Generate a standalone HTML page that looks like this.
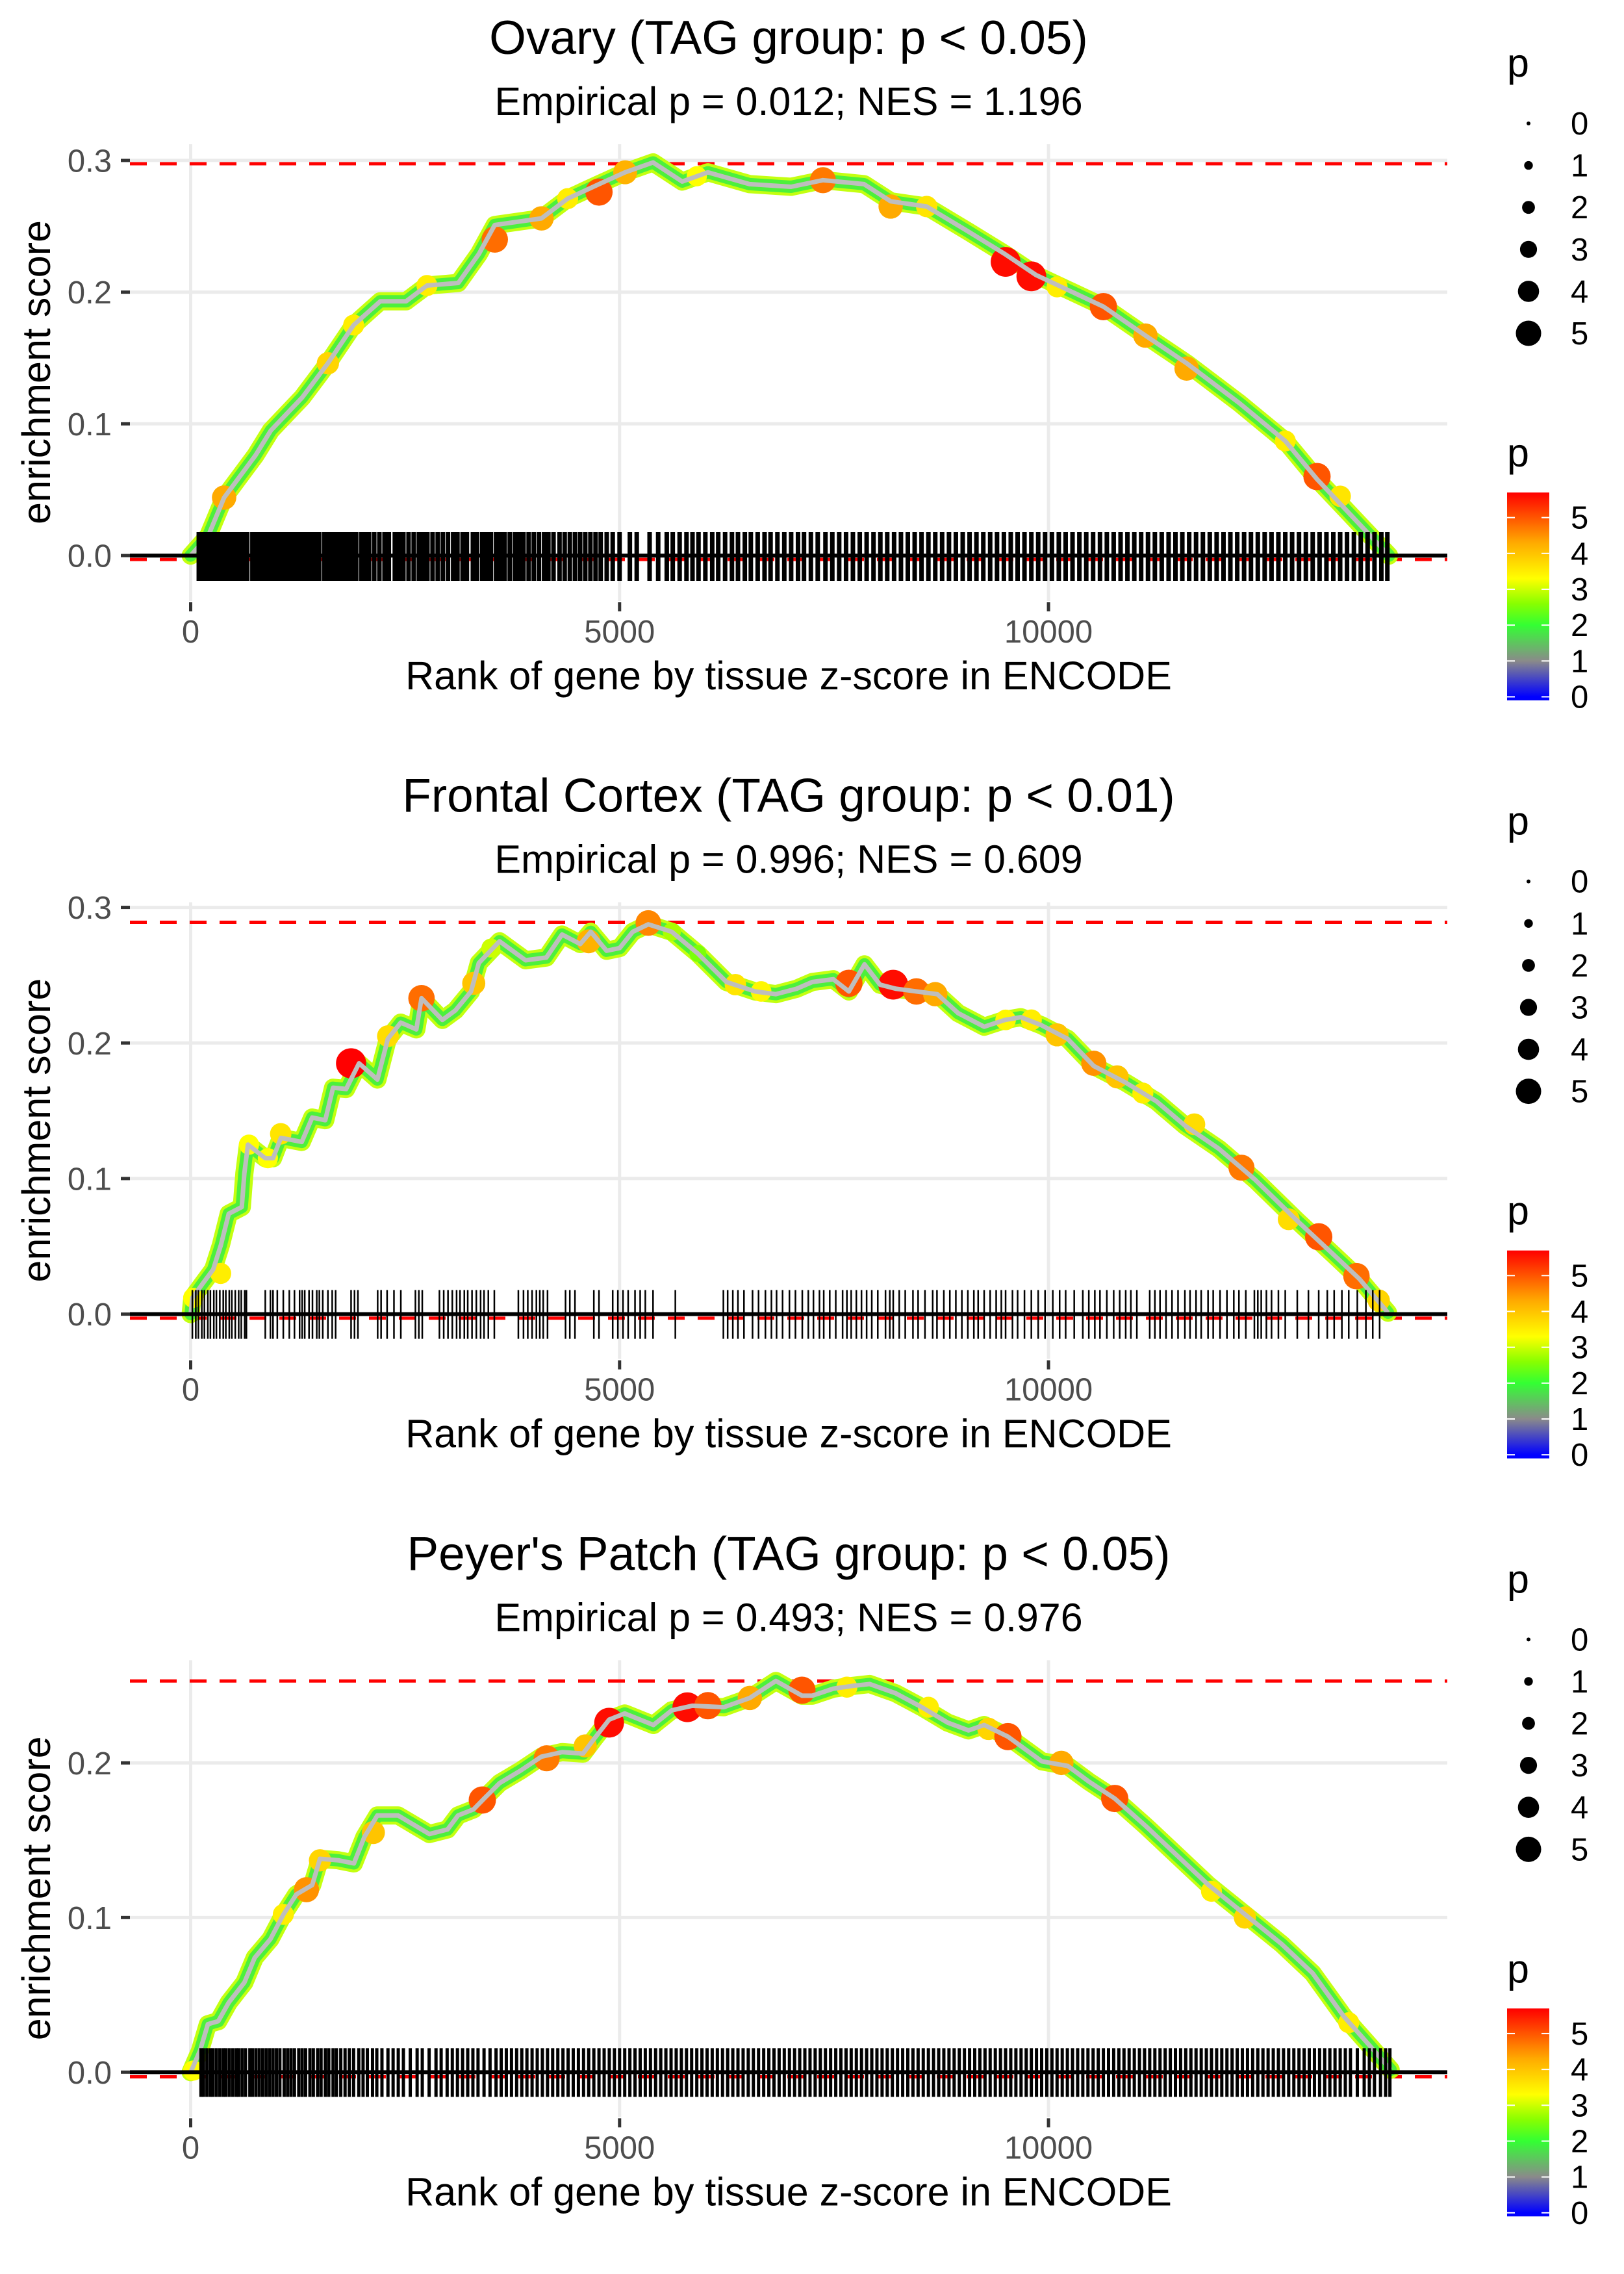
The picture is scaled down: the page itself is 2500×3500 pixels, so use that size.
<!DOCTYPE html>
<html><head><meta charset="utf-8"><title>GSEA enrichment plots</title>
<style>
html,body{margin:0;padding:0;background:#fff;}
svg{display:block;font-family:"Liberation Sans",Arial,sans-serif;}
</style></head>
<body>
<svg id="chart" xmlns="http://www.w3.org/2000/svg" width="2500" height="3500" viewBox="0 0 2500 3500"></svg>
<script>
// ---------- data ----------
const titles = ["Ovary (TAG group: p < 0.05)", "Frontal Cortex (TAG group: p < 0.01)", "Peyer's Patch (TAG group: p < 0.05)"];
const subtitles = ["Empirical p = 0.012; NES = 1.196", "Empirical p = 0.996; NES = 0.609", "Empirical p = 0.493; NES = 0.976"];
const xTicks = [0, 5000, 10000];
const xTickLabels = ["0", "5000", "10000"];
const yTicks1 = [0, 0.1, 0.2, 0.3];
const yTicks2 = [0, 0.1, 0.2, 0.3];
const yTicks3 = [0, 0.1, 0.2];
const yDomain1 = [-0.0345, 0.3123];
const yDomain2 = [-0.0331, 0.3038];
const yDomain3 = [-0.0290, 0.2664];
const maxES = [0.2975, 0.289, 0.253];
const minES = [-0.003, -0.003, -0.003];
const legendSizes = [0, 1, 2, 3, 4, 5];
const colorbarTicks = [0, 1, 2, 3, 4, 5];

// Ovary curve
const curveRank1 = [0,205,390,755,935,1300,1600,1900,2210,2510,2755,3120,3360,3545,4090,4395,4760,5065,5390,5730,6030,6515,7000,7370,7850,8160,8580,9065,9490,9855,10280,10640,11130,11610,12220,12760,13130,13550,13970];
const curveES1 = [0,0.015,0.044,0.076,0.095,0.12,0.146,0.175,0.193,0.193,0.205,0.207,0.229,0.251,0.256,0.271,0.282,0.291,0.2985,0.284,0.291,0.282,0.280,0.285,0.282,0.269,0.265,0.246,0.229,0.213,0.200,0.189,0.167,0.146,0.116,0.087,0.058,0.029,0];
const pointRank1 = [390,1600,1900,2755,3545,4090,4395,4760,5065,5900,7370,8160,8580,9500,9800,10100,10640,11130,11610,12760,13130,13400];
const pointES1 = [0.044,0.146,0.175,0.205,0.240,0.256,0.271,0.276,0.291,0.288,0.285,0.265,0.265,0.223,0.212,0.204,0.189,0.167,0.142,0.087,0.060,0.045];
const pointP1 = [4.3,3.8,3.5,3.5,4.8,4.3,3.5,5.0,4.2,3.3,4.7,4.3,3.6,5.6,5.6,3.5,5.0,4.3,4.3,3.5,5.0,3.6];
const rug1 = [95,130,160,210,250,290,330,370,420,455,500,540,590,630,660,720,760,800,850,880,930,975,1010,1060,1100,1150,1190,1240,1290,1330,1370,1420,1470,1500,1560,1600,1650,1700,1740,1790,1840,1880,1930,1990,2030,2080,2140,2200,2260,2310,2380,2430,2480,2540,2600,2660,2710,2760,2820,2880,2940,3000,3060,3110,3170,3220,3290,3340,3400,3450,3500,3560,3610,3660,3720,3780,3830,3880,3940,4000,4060,4120,4170,4230,4300,4360,4420,4480,4540,4600,4660,4720,4780,4850,4920,5000,5120,5200,5350,5450,5550,5620,5700,5780,5850,5920,6000,6080,6150,6230,6310,6380,6460,6530,6610,6690,6760,6840,6920,7000,7080,7150,7230,7310,7400,7480,7560,7640,7720,7800,7880,7960,8040,8120,8200,8280,8360,8440,8520,8600,8680,8760,8840,8920,9000,9080,9160,9240,9320,9400,9480,9560,9640,9720,9800,9880,9960,10040,10120,10200,10280,10360,10440,10520,10600,10680,10760,10840,10920,11000,11080,11160,11240,11320,11400,11480,11560,11640,11720,11800,11880,11960,12040,12120,12200,12280,12360,12440,12520,12600,12680,12760,12840,12920,13000,13080,13160,13240,13320,13400,13480,13560,13640,13720,13800,13880,13950];

// Frontal cortex curve
const curveRank2 = [0,20,140,263,353,444,596,626,668,870,960,1052,1295,1417,1569,1660,1812,1963,2177,2298,2449,2631,2691,2934,3086,3268,3359,3601,3904,4147,4329,4542,4664,4849,5001,5153,5335,5609,5912,6245,6580,6822,7065,7248,7491,7673,7855,8037,8219,8462,8704,8947,9250,9493,9678,9921,10224,10528,10893,11257,11591,11986,12411,12897,13321,13624,13958];
const curveES2 = [0,0.012,0.0225,0.033,0.051,0.074,0.079,0.104,0.125,0.115,0.115,0.130,0.127,0.145,0.143,0.167,0.166,0.185,0.173,0.203,0.215,0.210,0.233,0.217,0.224,0.238,0.259,0.275,0.261,0.263,0.280,0.273,0.282,0.268,0.270,0.282,0.2875,0.282,0.266,0.245,0.238,0.236,0.240,0.245,0.247,0.238,0.258,0.243,0.240,0.238,0.236,0.222,0.212,0.217,0.219,0.213,0.203,0.183,0.171,0.157,0.139,0.122,0.099,0.069,0.044,0.026,0.001];
const pointRank2 = [30,350,680,900,1050,1870,2300,2691,3300,3500,4640,5335,5609,5912,6350,6650,7673,8190,8460,8680,9500,9800,10100,10528,10800,11100,11700,12250,12800,13150,13590,13850];
const pointES2 = [0.012,0.03,0.125,0.115,0.133,0.185,0.205,0.233,0.244,0.27,0.275,0.2885,0.282,0.266,0.243,0.238,0.244,0.243,0.238,0.236,0.217,0.217,0.206,0.185,0.175,0.163,0.140,0.108,0.07,0.057,0.028,0.01];
const pointP2 = [3.3,3.5,3.3,3.3,3.6,5.7,3.7,4.8,4.0,3.0,4.2,4.6,2.8,2.5,3.6,3.4,5.0,5.6,4.8,4.3,3.4,3.5,4.0,4.5,4.0,3.5,3.7,4.7,3.7,5.0,4.8,3.8];
const rug2 = [20,60,90,130,160,200,230,270,300,340,380,410,450,480,520,560,590,630,650,870,930,960,1010,1080,1150,1210,1270,1300,1330,1380,1420,1470,1500,1540,1600,1650,1690,1870,1910,1950,2180,2220,2290,2370,2450,2620,2660,2700,2900,2950,3000,3050,3100,3140,3190,3230,3280,3330,3380,3420,3470,3540,3820,3880,3930,3980,4030,4070,4110,4160,4370,4420,4480,4700,4760,4920,4980,5040,5100,5180,5240,5300,5390,5650,6210,6260,6320,6380,6450,6550,6620,6700,6770,6830,6900,6980,7050,7130,7200,7260,7330,7380,7450,7520,7600,7650,7700,7760,7820,7880,7940,8010,8100,8150,8190,8260,8330,8420,8480,8560,8650,8700,8780,8850,8920,8990,9060,9130,9180,9250,9320,9390,9450,9500,9580,9640,9720,9800,9880,9960,10050,10130,10200,10300,10400,10470,10540,10600,10680,10760,10830,10900,10960,11030,11180,11240,11300,11370,11440,11510,11590,11650,11720,11780,11860,11920,12000,12080,12160,12220,12300,12400,12440,12480,12540,12600,12680,12760,12900,13030,13150,13250,13330,13420,13500,13600,13700,13780,13860];

// Peyer's patch curve
const curveRank3 = [0,110,201,322,444,626,747,930,1082,1233,1417,1508,1720,1903,2024,2176,2418,2631,2783,2995,3117,3299,3421,3602,3845,4088,4331,4574,4696,4878,5060,5395,5608,5850,6215,6518,6822,7126,7248,7491,7703,7915,8219,8523,8826,9068,9250,9527,9922,10226,10469,10772,11137,11501,11865,12290,12715,13079,13443,13746,13989];
const curveES3 = [0,0.014,0.031,0.033,0.045,0.058,0.074,0.086,0.102,0.115,0.121,0.138,0.137,0.135,0.152,0.166,0.166,0.159,0.154,0.157,0.166,0.170,0.177,0.187,0.195,0.204,0.207,0.206,0.215,0.228,0.232,0.2245,0.234,0.237,0.236,0.242,0.253,0.2435,0.2435,0.248,0.2497,0.251,0.245,0.236,0.226,0.221,0.2245,0.217,0.201,0.198,0.188,0.177,0.159,0.140,0.121,0.102,0.083,0.064,0.036,0.017,0.0015];
const pointRank3 = [30,1080,1350,1508,2130,3400,4150,4600,4878,5790,6030,6518,7126,7650,8600,9300,9527,10150,10772,11900,12290,13500];
const pointES3 = [0.001,0.102,0.118,0.137,0.155,0.176,0.203,0.211,0.226,0.236,0.237,0.242,0.247,0.249,0.236,0.222,0.217,0.200,0.177,0.117,0.100,0.032];
const pointP3 = [3.3,3.5,4.5,3.8,4.0,5.0,4.7,4.0,5.6,5.6,5.0,4.3,5.0,3.5,3.5,3.8,5.0,4.3,5.0,3.5,3.8,3.5];
const rug3 = [120,150,190,230,260,300,340,380,410,450,490,530,560,600,640,690,720,760,800,840,880,920,960,1000,1040,1090,1130,1170,1210,1260,1300,1340,1390,1430,1480,1520,1570,1610,1660,1700,1750,1800,1850,1900,1960,2010,2060,2120,2170,2230,2300,2360,2420,2480,2560,2640,2700,2780,2860,2920,2990,3050,3110,3170,3230,3290,3350,3420,3490,3560,3620,3680,3740,3800,3860,3920,3980,4040,4100,4160,4220,4280,4340,4400,4460,4520,4580,4640,4700,4760,4820,4880,4940,5000,5060,5120,5180,5240,5300,5360,5420,5480,5540,5600,5660,5720,5780,5840,5900,5960,6020,6080,6140,6200,6260,6320,6380,6440,6500,6560,6620,6680,6740,6800,6860,6920,6980,7040,7100,7160,7220,7280,7340,7400,7460,7520,7580,7640,7700,7760,7820,7880,7940,8000,8060,8120,8180,8240,8300,8360,8420,8480,8540,8600,8660,8720,8780,8840,8900,8960,9020,9080,9140,9200,9260,9320,9380,9440,9500,9560,9620,9680,9740,9800,9860,9920,9980,10040,10100,10160,10220,10280,10340,10400,10460,10520,10580,10640,10700,10760,10820,10880,10940,11000,11060,11120,11180,11240,11300,11360,11420,11480,11540,11600,11660,11720,11780,11840,11900,11960,12020,12080,12140,12200,12260,12320,12380,12440,12500,12560,12620,12680,12740,12800,12860,12920,12980,13040,13100,13160,13220,13280,13340,13400,13460,13520,13600,13680,13740,13800,13870,13930,13980];
const rugWidths = [7, 2.5, 5];

// ---------- layout ----------
const SVGNS = "http://www.w3.org/2000/svg";
const svg = document.getElementById("chart");
const PANEL_H = 3500 / 3;
const PX0 = 200, PX1 = 2228, PY0 = 222, PY1 = 925;
const X_MIN = -708, X_MAX = 14649;
const xs = r => PX0 + (r - X_MIN) / (X_MAX - X_MIN) * (PX1 - PX0);
const CB_TOP = 758, CB_BOT = 1078, CB_PMAX = 5.7, CB_PMIN = -0.1;
const colorStops = [[-0.1,[0,0,255]],[0,[0,0,255]],[1,[138,138,138]],[2,[51,255,51]],[2.6,[136,255,0]],[3.3,[255,255,0]],[4.3,[255,170,0]],[5.7,[255,0,0]]];
function pColor(p){
  for (let i=0;i<colorStops.length-1;i++){
    const a=colorStops[i], b=colorStops[i+1];
    if (p<=b[0]){ const t=(p-a[0])/(b[0]-a[0]||1); const c=a[1].map((v,k)=>Math.round(v+(b[1][k]-v)*Math.max(0,t))); return "rgb("+c.join(",")+")"; }
  }
  return "rgb(255,0,0)";
}
const pRadius = p => 3.5 + 3.2 * p;
function mk(tag, attrs, parent){
  const e = document.createElementNS(SVGNS, tag);
  for (const k in attrs) e.setAttribute(k, attrs[k]);
  parent.appendChild(e);
  return e;
}

const defs = mk("defs", {}, svg);
const grad = mk("linearGradient", {id:"cbgrad", x1:"0", y1:"1", x2:"0", y2:"0"}, defs);
colorStops.forEach(s => {
  mk("stop", {offset: ((s[0]-CB_PMIN)/(CB_PMAX-CB_PMIN)).toFixed(4), "stop-color": pColor(s[0])}, grad);
});

const panels = [
  {cr:curveRank1, ce:curveES1, pr:pointRank1, pe:pointES1, pp:pointP1, rug:rug1, yt:yTicks1, yd:yDomain1, name:"ovary"},
  {cr:curveRank2, ce:curveES2, pr:pointRank2, pe:pointES2, pp:pointP2, rug:rug2, yt:yTicks2, yd:yDomain2, name:"frontal-cortex"},
  {cr:curveRank3, ce:curveES3, pr:pointRank3, pe:pointES3, pp:pointP3, rug:rug3, yt:yTicks3, yd:yDomain3, name:"peyers-patch"}
];

panels.forEach((P, i) => {
  const g = mk("g", {transform:"translate(0," + (i*PANEL_H).toFixed(2) + ")"}, svg);
  
  
  const ys = v => PY1 - (v - P.yd[0]) / (P.yd[1] - P.yd[0]) * (PY1 - PY0);

  const t = mk("text", {x:1214, y:83, "text-anchor":"middle", "font-size":73, fill:"#000"}, g);
  t.textContent = titles[i];
  
  
  const st = mk("text", {x:1214, y:177, "text-anchor":"middle", "font-size":61, fill:"#000"}, g);
  st.textContent = subtitles[i];
  
  

  P.yt.forEach(v => {
    const l = mk("line", {x1:PX0, x2:PX1, y1:ys(v), y2:ys(v), stroke:"#EBEBEB", "stroke-width":5}, g);
    
    
  });
  xTicks.forEach(v => {
    const l = mk("line", {x1:xs(v), x2:xs(v), y1:PY0, y2:PY1, stroke:"#EBEBEB", "stroke-width":5}, g);
    
    
  });

  P.yt.forEach(v => {
    const tk = mk("line", {x1:186, x2:200, y1:ys(v), y2:ys(v), stroke:"#333333", "stroke-width":5}, g);
    
    
    const tl = mk("text", {x:172, y:ys(v)+17.5, "text-anchor":"end", "font-size":49, fill:"#4D4D4D"}, g);
    tl.textContent = v.toFixed(1);
    
    
  });
  xTicks.forEach((v, k) => {
    const tk = mk("line", {x1:xs(v), x2:xs(v), y1:927, y2:941, stroke:"#333333", "stroke-width":5}, g);
    
    
    const tl = mk("text", {x:xs(v), y:989, "text-anchor":"middle", "font-size":49, fill:"#4D4D4D"}, g);
    tl.textContent = xTickLabels[k];
    
    
  });

  const yt = mk("text", {x:0, y:0, transform:"translate(77,573) rotate(-90)", "text-anchor":"middle", "font-size":61, fill:"#000"}, g);
  yt.textContent = "enrichment score";
  
  
  const xt = mk("text", {x:1214, y:1061, "text-anchor":"middle", "font-size":61, fill:"#000"}, g);
  xt.textContent = "Rank of gene by tissue z-score in ENCODE";
  
  

  const dTop = mk("line", {x1:PX0, x2:PX1, y1:ys(maxES[i]), y2:ys(maxES[i]), stroke:"#FF0000", "stroke-width":5, "stroke-dasharray":"26 20"}, g);
  
  
  const dBot = mk("line", {x1:PX0, x2:PX1, y1:ys(minES[i]), y2:ys(minES[i]), stroke:"#FF0000", "stroke-width":5, "stroke-dasharray":"26 20"}, g);
  
  

  const pts = P.cr.map((r, k) => xs(r).toFixed(1) + "," + ys(P.ce[k]).toFixed(1)).join(" ");
  const band1 = mk("polyline", {points:pts, fill:"none", stroke:"#C4FF10", "stroke-width":28, "stroke-linejoin":"round", "stroke-linecap":"round"}, g);
  
  
  const band2 = mk("polyline", {points:pts, fill:"none", stroke:"#4CF03C", "stroke-width":19, "stroke-linejoin":"round", "stroke-linecap":"round"}, g);
  
  

  P.pr.forEach((r, k) => {
    const c = mk("circle", {cx:xs(r), cy:ys(P.pe[k]), r:pRadius(P.pp[k]) + 1.5, fill:pColor(P.pp[k])}, g);
    
    
  });

  const line = mk("polyline", {points:pts, fill:"none", stroke:"#BEBEBE", "stroke-width":7, "stroke-linejoin":"round"}, g);
  
  

  P.rug.forEach(r => {
    const l = mk("line", {x1:xs(r), x2:xs(r), y1:819, y2:894, stroke:"#000", "stroke-width":rugWidths[i]}, g);
    
    
  });

  const z = mk("line", {x1:PX0, x2:PX1, y1:ys(0), y2:ys(0), stroke:"#000", "stroke-width":6}, g);
  
  

  const sl = mk("text", {x:2320, y:118, "font-size":61, fill:"#000"}, g);
  sl.textContent = "p";
  
  
  legendSizes.forEach((s, k) => {
    const cy = 190 + k * 64.6;
    const d = mk("circle", {cx:2353, cy:cy, r:pRadius(s) - (s===0?0.5:0), fill:"#000"}, g);
    
    
    const tl = mk("text", {x:2418, y:cy + 17, "font-size":49, fill:"#000"}, g);
    tl.textContent = String(s);
    
    
  });

  const cl = mk("text", {x:2320, y:718, "font-size":61, fill:"#000"}, g);
  cl.textContent = "p";
  
  
  const bar = mk("rect", {x:2320, y:CB_TOP, width:65, height:CB_BOT - CB_TOP, fill:"url(#cbgrad)"}, g);
  
  
  colorbarTicks.forEach(v => {
    const y = CB_BOT - (v - CB_PMIN) / (CB_PMAX - CB_PMIN) * (CB_BOT - CB_TOP);
    const a = mk("line", {x1:2320, x2:2332, y1:y, y2:y, stroke:"#fff", "stroke-width":2}, g);
    
    
    const b = mk("line", {x1:2373, x2:2385, y1:y, y2:y, stroke:"#fff", "stroke-width":2}, g);
    
    
    const tl = mk("text", {x:2418, y:y + 17, "font-size":49, fill:"#000"}, g);
    tl.textContent = String(v);
    
    
  });
});
</script>
</body></html>
